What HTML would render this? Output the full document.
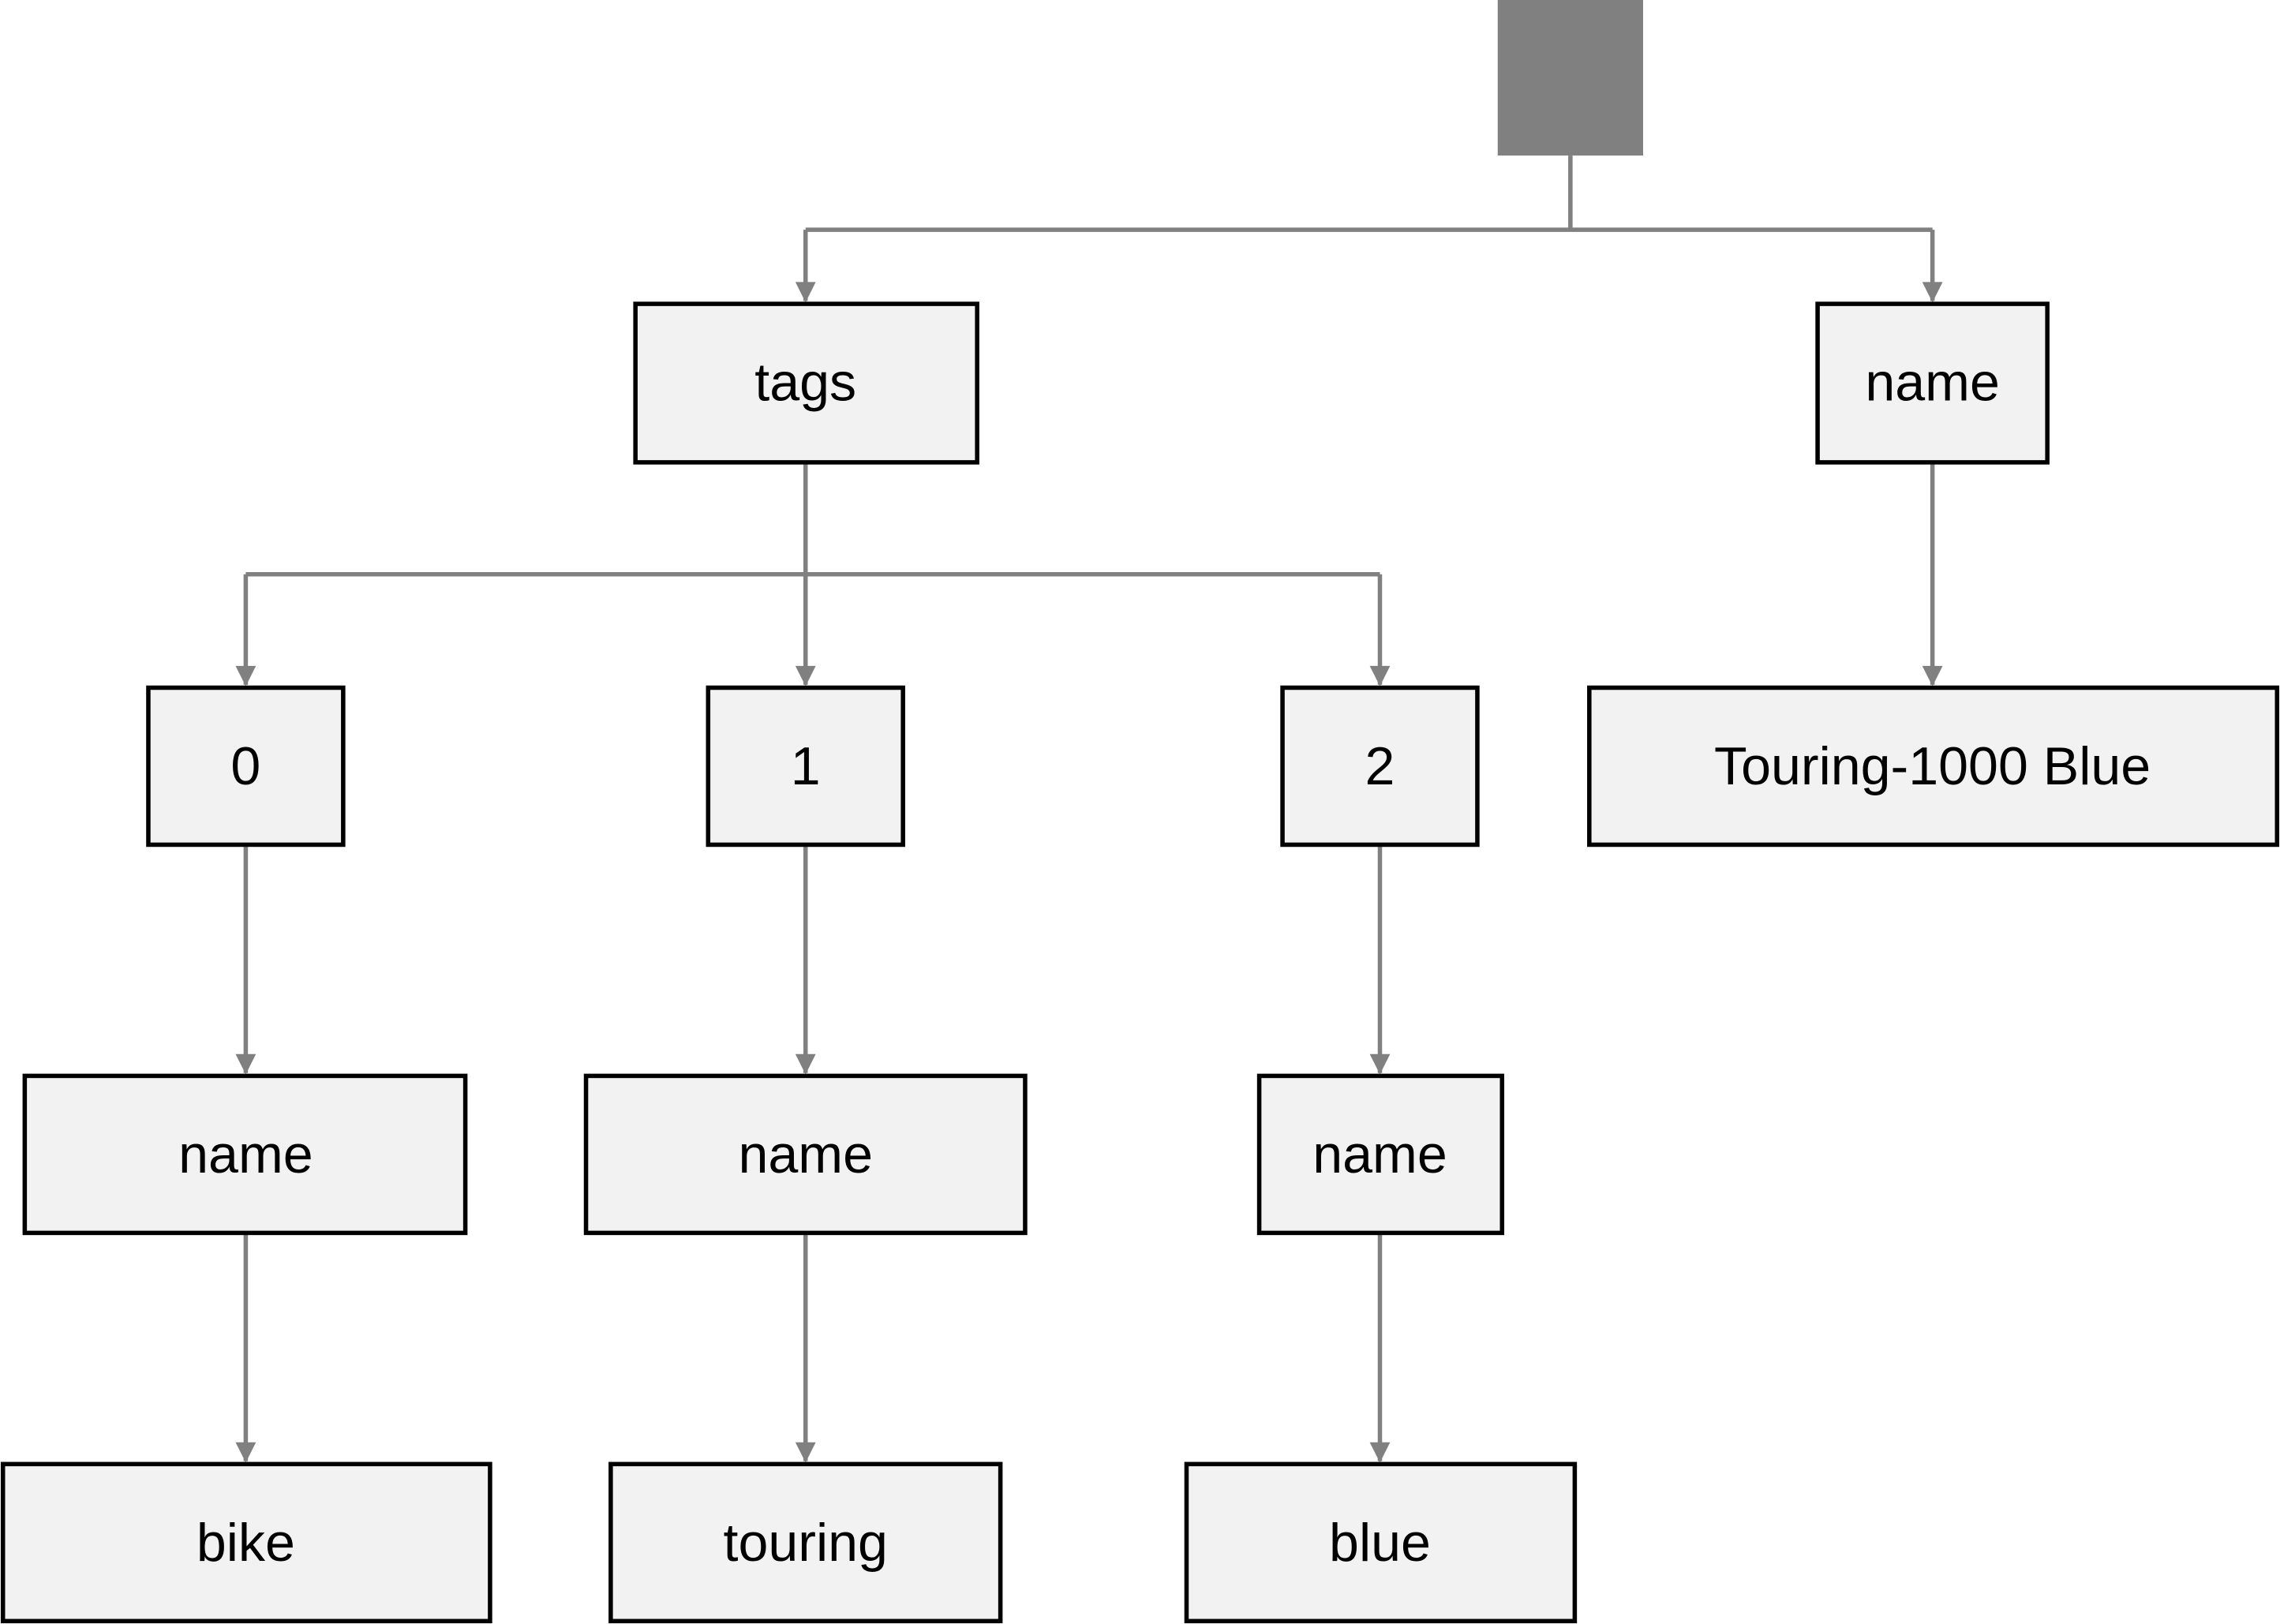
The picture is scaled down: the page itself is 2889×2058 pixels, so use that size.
<!DOCTYPE html>
<html><head><meta charset="utf-8"><style>
html,body{margin:0;padding:0;background:#fff;}
svg{display:block;}
text{font-family:"Liberation Sans","DejaVu Sans",sans-serif;font-size:37px;fill:#000;text-anchor:middle;dominant-baseline:central;}
.b{fill:#f2f2f2;stroke:#000;stroke-width:3;}
.c{fill:none;stroke:#808080;stroke-width:3;}
</style></head><body>
<svg width="2889" height="2058" viewBox="0 0 1568 1117" xmlns="http://www.w3.org/2000/svg">
<defs><marker id="a" markerWidth="10" markerHeight="10" refX="5" refY="8" orient="auto" markerUnits="userSpaceOnUse" viewBox="0 0 10 10"><path d="M0,0 L10,0 L5,10 Z" transform="translate(0,-2)" fill="#808080"/></marker>
<marker id="m" markerWidth="14" markerHeight="14" refX="7" refY="13" orient="0" markerUnits="userSpaceOnUse"><path d="M0,0 L14,0 L7,14 Z" fill="#808080"/></marker></defs>
<rect x="1030" y="0" width="100" height="107" fill="#808080"/>
<path class="c" d="M1080,107 V158 M554,158 H1329 M554,158 V207 M1329,158 V207"/>
<path class="c" d="M554,318 V471 M169,395 H949 M169,395 V471 M949,395 V471"/>
<path class="c" d="M1329,318 V471"/>
<path class="c" d="M169,581 V738 M554,581 V738 M949,581 V738"/>
<path class="c" d="M169,848 V1005 M554,848 V1005 M949,848 V1005"/>
<g fill="#808080">
<path d="M547,194 L561,194 L554,208 Z"/><path d="M1322,194 L1336,194 L1329,208 Z"/>
<path d="M162,458 L176,458 L169,472 Z"/><path d="M547,458 L561,458 L554,472 Z"/><path d="M942,458 L956,458 L949,472 Z"/><path d="M1322,458 L1336,458 L1329,472 Z"/>
<path d="M162,725 L176,725 L169,739 Z"/><path d="M547,725 L561,725 L554,739 Z"/><path d="M942,725 L956,725 L949,739 Z"/>
<path d="M162,992 L176,992 L169,1006 Z"/><path d="M547,992 L561,992 L554,1006 Z"/><path d="M942,992 L956,992 L949,1006 Z"/>
</g>
<rect class="b" x="437" y="209" width="235" height="109"/><text x="554" y="263">tags</text>
<rect class="b" x="1250" y="209" width="158" height="109"/><text x="1329" y="263">name</text>
<rect class="b" x="102" y="473" width="134" height="108"/><text x="169" y="527">0</text>
<rect class="b" x="487" y="473" width="134" height="108"/><text x="554" y="527">1</text>
<rect class="b" x="882" y="473" width="134" height="108"/><text x="949" y="527">2</text>
<rect class="b" x="1093" y="473" width="473" height="108"/><text x="1329" y="527">Touring-1000 Blue</text>
<rect class="b" x="17" y="740" width="303" height="108"/><text x="169" y="794">name</text>
<rect class="b" x="403" y="740" width="302" height="108"/><text x="554" y="794">name</text>
<rect class="b" x="866" y="740" width="167" height="108"/><text x="949" y="794">name</text>
<rect class="b" x="2" y="1007" width="335" height="108"/><text x="169" y="1061">bike</text>
<rect class="b" x="420" y="1007" width="268" height="108"/><text x="554" y="1061">touring</text>
<rect class="b" x="816" y="1007" width="267" height="108"/><text x="949" y="1061">blue</text>
</svg>
</body></html>
